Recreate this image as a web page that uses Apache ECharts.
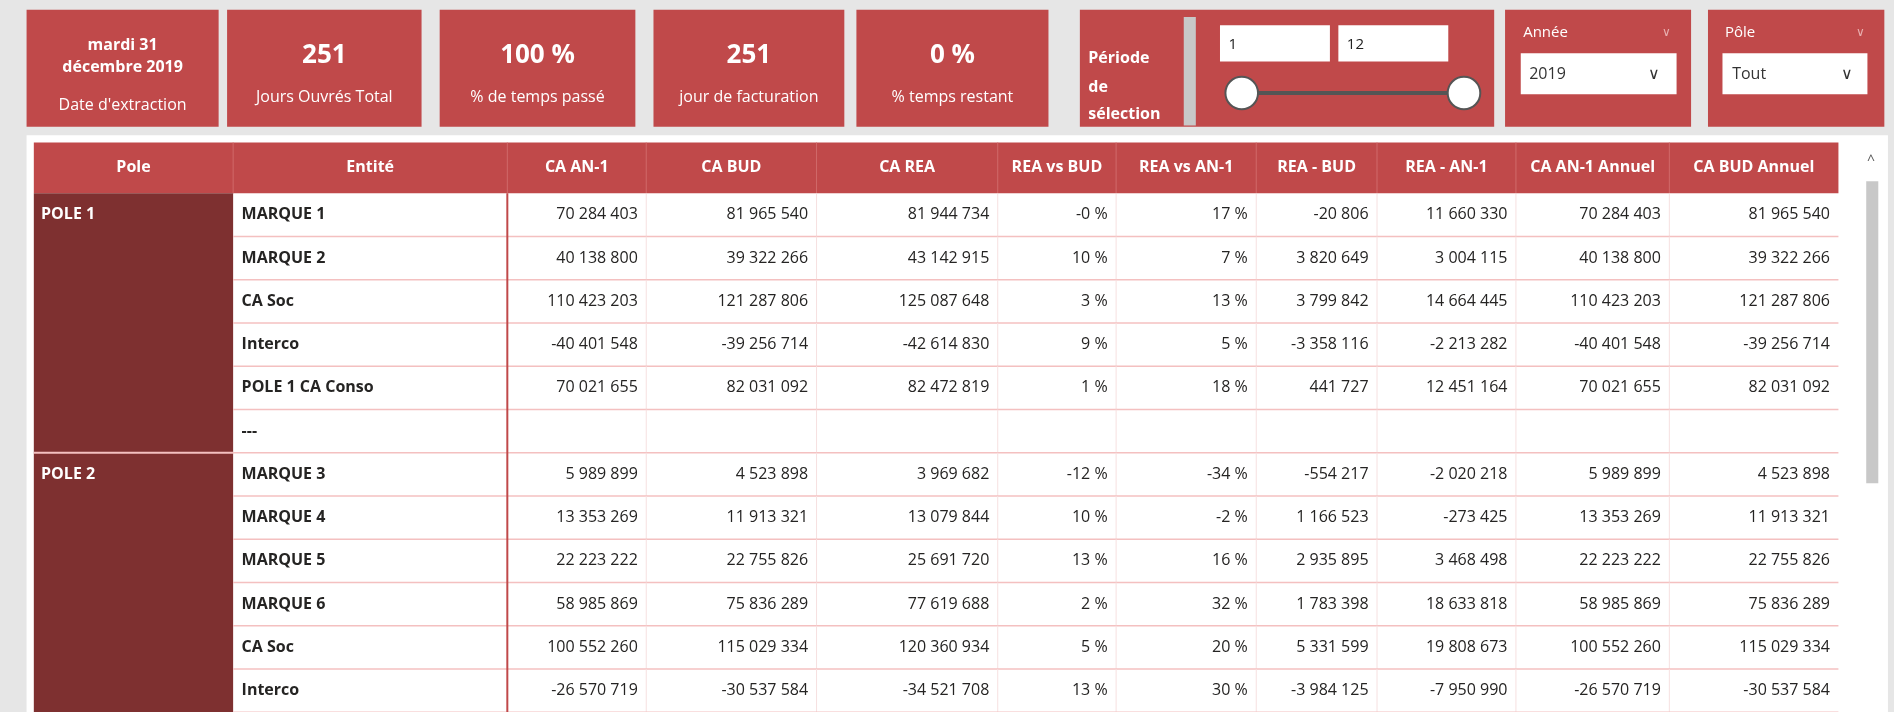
<!DOCTYPE html>
<html><head><meta charset="utf-8">
<script src="https://cdn.jsdelivr.net/npm/echarts@6/dist/echarts.min.js"></script>
<style>html,body{margin:0;padding:0;background:#e6e6e6}#c{width:1894px;height:712px}</style>
</head><body><div id="c"></div>
<script>
const headers = ['Pole','Entité','CA AN-1','CA BUD','CA REA','REA vs BUD','REA vs AN-1','REA - BUD','REA - AN-1','CA AN-1 Annuel','CA BUD Annuel'];
const poles = ['POLE 1','POLE 2'];
const poleRows = [6, 6];
const entities = ['MARQUE 1','MARQUE 2','CA Soc','Interco','POLE 1 CA Conso','---','MARQUE 3','MARQUE 4','MARQUE 5','MARQUE 6','CA Soc','Interco'];
const caAn1 = ['70 284 403','40 138 800','110 423 203','-40 401 548','70 021 655','','5 989 899','13 353 269','22 223 222','58 985 869','100 552 260','-26 570 719'];
const caBud = ['81 965 540','39 322 266','121 287 806','-39 256 714','82 031 092','','4 523 898','11 913 321','22 755 826','75 836 289','115 029 334','-30 537 584'];
const caRea = ['81 944 734','43 142 915','125 087 648','-42 614 830','82 472 819','','3 969 682','13 079 844','25 691 720','77 619 688','120 360 934','-34 521 708'];
const reaVsBud = ['-0 %','10 %','3 %','9 %','1 %','','-12 %','10 %','13 %','2 %','5 %','13 %'];
const reaVsAn1 = ['17 %','7 %','13 %','5 %','18 %','','-34 %','-2 %','16 %','32 %','20 %','30 %'];
const reaMinusBud = ['-20 806','3 820 649','3 799 842','-3 358 116','441 727','','-554 217','1 166 523','2 935 895','1 783 398','5 331 599','-3 984 125'];
const reaMinusAn1 = ['11 660 330','3 004 115','14 664 445','-2 213 282','12 451 164','','-2 020 218','-273 425','3 468 498','18 633 818','19 808 673','-7 950 990'];
const caAn1Annuel = ['70 284 403','40 138 800','110 423 203','-40 401 548','70 021 655','','5 989 899','13 353 269','22 223 222','58 985 869','100 552 260','-26 570 719'];
const caBudAnnuel = ['81 965 540','39 322 266','121 287 806','-39 256 714','82 031 092','','4 523 898','11 913 321','22 755 826','75 836 289','115 029 334','-30 537 584'];
const cardValues = ['251','100 %','251','0 %'];
const cardLabels = ['Jours Ouvrés Total','% de temps passé','jour de facturation','% temps restant'];

const S = 1894/1568;
const F = "'Segoe UI','Open Sans','Noto Sans',sans-serif";
const RED = '#c0494a', DARK = '#7e3030';
const g = [];
function rect(x,y,w,h,fill,extra){g.push(Object.assign({type:'rect',shape:{x:x*S,y:y*S,width:w*S,height:h*S},style:{fill:fill}},extra||{}));}
function line(x1,y1,x2,y2,c,w){g.push({type:'line',shape:{x1:x1*S,y1:y1*S,x2:x2*S,y2:y2*S},style:{stroke:c,lineWidth:w}});}
function text(x,y,t,size,color,weight,align,va){g.push({type:'text',x:x*S,y:y*S,style:{text:t,fontSize:size,fill:color,fontWeight:weight||'normal',fontFamily:F,textAlign:align||'left',textVerticalAlign:va||'middle'}});}

// top cards
rect(22,8,159,97,RED);
text(101.5,38,'mardi 31',16,'#fff','bold','center');
text(101.5,56,'décembre 2019',16,'#fff','bold','center');
text(101.5,87,"Date d'extraction",16,'#fff','normal','center');
const cardX = [[188,349],[364,526],[541,699],[709,868]];
cardX.forEach((c,i)=>{
  rect(c[0],8,c[1]-c[0],97,RED);
  text((c[0]+c[1])/2,46,cardValues[i],26,'#fff','bold','center');
  text((c[0]+c[1])/2,81,cardLabels[i],16,'#fff','normal','center');
});
// period slicer
rect(894,8,343,97,RED);
text(901,48,'Période',16,'#fff','bold');
text(901,72,'de',16,'#fff','bold');
text(901,95,'sélection',16,'#fff','bold');
rect(980,14,10,90,'#c8c8c8');
rect(1010,21,91,30,'#fff');
rect(1108,21,91,30,'#fff');
text(1017,37,'1',15,'#222');
text(1115,37,'12',15,'#222');
line(1028,77,1212,77,'#555',4);
g.push({type:'circle',shape:{cx:1028*S,cy:77*S,r:13.5*S},style:{fill:'#fff',stroke:'#555',lineWidth:2}});
g.push({type:'circle',shape:{cx:1212*S,cy:77*S,r:13.5*S},style:{fill:'#fff',stroke:'#555',lineWidth:2}});
// Année
rect(1246,8,154,97,RED);
text(1261,27,'Année',15,'#fff');
text(1380,27,'∨',12,'#e8b0b0','normal','center');
rect(1259,44,129,34,'#fff');
text(1266,62,'2019',16,'#333');
text(1369,62,'∨',16,'#333','normal','center');
// Pôle
rect(1414,8,146,97,RED);
text(1428,27,'Pôle',15,'#fff');
text(1540,27,'∨',12,'#e8b0b0','normal','center');
rect(1426,44,120,34,'#fff');
text(1434,62,'Tout',16,'#333');
text(1529,62,'∨',16,'#333','normal','center');

// table
rect(22,112,1541,480,'#fff');
const cx = [28,193,420,535,676,826,924,1040,1140,1255,1382,1522];
const hy0 = 118, hy1 = 160, rh = 35.8;
rect(28,hy0,1494,hy1-hy0,RED);
headers.forEach((h,i)=>{
  if(i>0) line(cx[i],hy0,cx[i],hy1,'#d06a6a',1);
  text((cx[i]+cx[i+1])/2,(hy0+hy1)/2,h,16,'#fff','bold','center');
});
const cols = [caAn1,caBud,caRea,reaVsBud,reaVsAn1,reaMinusBud,reaMinusAn1,caAn1Annuel,caBudAnnuel];
let r0 = 0;
poles.forEach((p,pi)=>{
  const y = hy1 + r0*rh;
  rect(28,y,165,poleRows[pi]*rh,DARK);
  text(34,y+rh/2,p,16,'#fff','bold');
  if(pi>0) line(28,y,193,y,'#f4c0c0',2);
  r0 += poleRows[pi];
});
entities.forEach((e,r)=>{
  const y = hy1 + r*rh;
  if(y>595) return;
  for(let c=3;c<11;c++) line(cx[c],y,cx[c],y+rh,'#f6e0e0',1);
  line(193,y+rh,1522,y+rh,'#f4c0c0',1.5);
  text(200,y+rh/2,e,16,'#252423','bold');
  cols.forEach((col,ci)=>{ text(cx[ci+3]-7,y+rh/2,col[r],16,'#252423','normal','right'); });
});
line(420,hy1,420,595,'#c0494a',2);
// scrollbar
text(1549,133,'^',14,'#555','normal','center');
rect(1545,150,10,250,'#c8c8c8');

const chart = echarts.init(document.getElementById('c'));
chart.setOption({backgroundColor:'#e6e6e6',graphic:g});
</script></body></html>
